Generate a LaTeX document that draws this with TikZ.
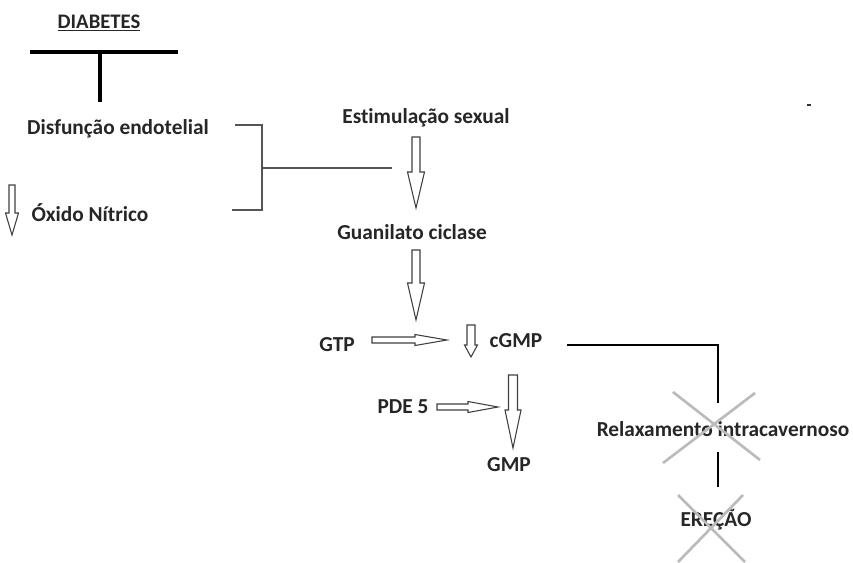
\documentclass[tikz,border=0pt]{standalone}
\usepackage{fontspec}
\setmainfont[Ligatures=NoCommon]{Carlito}
\usetikzlibrary{calc}
\definecolor{txt}{HTML}{262626}
\definecolor{brk}{HTML}{555555}
\definecolor{xgray}{HTML}{BBBBBB}
\tikzset{
  lbl/.style={font=\bfseries\fontsize{16}{18}\selectfont, text=txt, inner sep=0pt, text height=0.66em, text depth=0.05em, yshift=-1.5pt},
  arrowline/.style={draw=black!75, line width=0.8pt, fill=white, line join=miter},
  brline/.style={draw=brk, line width=1.2pt},
  blkline/.style={draw=black, line width=1.2pt},
  cross/.style={draw=xgray, line width=2pt},
  pics/vdown/.style args={#1/#2/#3/#4}{code={
    \path[arrowline] (-#3,0) -- (-#3,#1-#2) -- (-#4,#1-#2) -- (0,#1) -- (#4,#1-#2) -- (#3,#1-#2) -- (#3,0) -- cycle;}},
  pics/hright/.style args={#1/#2/#3/#4}{code={
    \path[arrowline] (0,-#3) -- (#1-#2,-#3) -- (#1-#2,-#4) -- (#1,0) -- (#1-#2,#4) -- (#1-#2,#3) -- (0,#3) -- cycle;}}
}
\begin{document}
\begin{tikzpicture}[x=0.75pt,y=-0.75pt]
\useasboundingbox (0,0) rectangle (853,562);
% texts
\node[lbl, font=\bfseries\fontsize{15.5}{17}\selectfont] (diab) at (99,22) {\underline{DIABETES}};
\node[lbl] (disf) at (118,128) {Disfunção endotelial};
\node[lbl] (oxido) at (90,215) {Óxido Nítrico};
\node[lbl] (estim) at (426,117) {Estimulação sexual};
\node[lbl] (guan) at (412,233) {Guanilato ciclase};
\node[lbl] (gtp) at (337,345) {GTP};
\node[lbl] (cgmp) at (516,341) {cGMP};
\node[lbl] (pde) at (403,407) {PDE 5};
\node[lbl] (gmp) at (509,465) {GMP};
\node[lbl] (relax) at (723,430) {Relaxamento intracavernoso};
\node[lbl] (erec) at (716,520) {EREÇÃO};
% T under diabetes
\coordinate (tl) at (30,52);
\coordinate (tr) at (178,52);
\coordinate (tm) at (100,52);
\coordinate (tb) at (100,102);
\draw[line width=2.6pt] (tl) -- (tr);
\draw[line width=2.6pt] (tm) -- (tb);
% bracket
\coordinate (b1) at (235,125);
\coordinate (b2) at (262,125);
\coordinate (b3) at (262,210);
\coordinate (b4) at (232,210);
\coordinate (bm) at (262,168);
\coordinate (be) at (392,168);
\draw[brline] (b1) -- (b2) -- (b3) -- (b4);
\draw[brline] (bm) -- (be);
% block arrows
\pic at (416,137) {vdown=71/36/4/8.5};
\pic at (416,250) {vdown=70/37/4/8.5};
\pic at (471,325) {vdown=32/12/4/6.5};
\pic at (12,185) {vdown=50/22/3/6.5};
\pic at (513,375) {vdown=73/38/4.5/8};
\pic at (372,340) {hright=75/32/3/5.5};
\pic at (437,407) {hright=61/30/3/5.5};
% cGMP connector
\coordinate (c1) at (567,345);
\coordinate (c2) at (718,345);
\coordinate (c3) at (718,403);
\coordinate (r1) at (718,452);
\coordinate (r2) at (718,487);
\draw[blkline] (c1) -- (c2) -- (c3);
\draw[blkline] (r1) -- (r2);
% crosses
\draw[cross] (673,392) -- (760,460);
\draw[cross] (755,393) -- (663,463);
\draw[cross] (678,495) -- (745,562);
\draw[cross] (743,495) -- (678,562);
% stray mark
\draw[line width=1.5pt, black!80] (807,105) -- (811,105);
\end{tikzpicture}
\end{document}
